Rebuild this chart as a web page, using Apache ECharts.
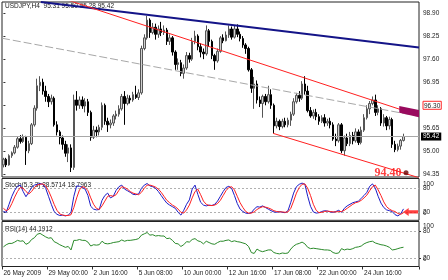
<!DOCTYPE html>
<html><head><meta charset="utf-8">
<script src="https://cdn.jsdelivr.net/npm/echarts@6/dist/echarts.min.js"></script>
<style>html,body{margin:0;padding:0;background:#fff}#c{width:448px;height:280px}</style>
</head><body><div id="c"></div>
<script>
// ---- data ----
const headerText = 'USDJPY,H4  95.31 95.50 95.28 95.42';
const stochText = 'Stoch(5,3,3) 28.5714 18.7963';
const rsiText = 'RSI(14) 44.1912';
const open  = [94.62,94.78,94.62,94.88,94.96,95.12,95.36,95.28,95.40,95.02,95.22,95.75,96.22,96.85,96.95,96.70,96.55,96.40,96.50,95.75,95.55,95.38,95.20,94.95,95.10,94.55,96.45,96.30,96.45,96.28,96.40,96.10,95.40,95.60,95.55,95.68,96.30,95.85,95.75,95.80,96.00,96.05,96.20,96.55,96.35,96.50,96.45,96.60,96.52,96.65,97.90,98.20,98.70,98.35,98.50,98.30,98.45,98.35,98.42,98.10,98.20,97.80,97.45,97.50,97.20,97.35,97.70,97.60,98.10,98.25,97.95,97.80,97.75,98.40,98.10,97.70,97.55,97.82,98.20,98.12,98.28,98.45,98.22,98.45,98.30,98.18,98.00,97.90,97.30,96.78,96.90,96.45,96.35,96.55,96.40,96.60,96.30,95.72,95.85,95.70,95.85,95.75,95.88,96.05,96.40,96.58,96.50,96.90,96.70,96.15,96.00,96.10,95.98,95.85,95.95,95.80,95.85,95.75,95.35,95.30,95.75,95.02,95.38,95.22,95.45,95.30,95.55,95.25,95.60,95.95,96.20,96.35,96.45,96.10,96.20,95.80,95.95,95.72,95.90,95.20,95.05,95.15,95.31];
const close = [94.78,94.62,94.88,94.96,95.12,95.36,95.28,95.40,95.02,95.22,95.75,96.22,96.85,96.95,96.70,96.55,96.40,96.50,95.75,95.55,95.38,95.20,94.95,95.10,94.55,96.45,96.30,96.45,96.28,96.40,96.10,95.40,95.60,95.55,95.68,96.30,95.85,95.75,95.80,96.00,96.05,96.20,96.55,96.35,96.50,96.45,96.60,96.52,96.65,97.90,98.20,98.70,98.35,98.50,98.30,98.45,98.35,98.42,98.10,98.20,97.80,97.45,97.50,97.20,97.35,97.70,97.60,98.10,98.25,97.95,97.80,97.75,98.40,98.10,97.70,97.55,97.82,98.20,98.12,98.28,98.45,98.22,98.45,98.30,98.18,98.00,97.90,97.30,96.78,96.90,96.45,96.35,96.55,96.40,96.60,96.30,95.72,95.85,95.70,95.85,95.75,95.88,96.05,96.40,96.58,96.50,96.90,96.70,96.15,96.00,96.10,95.98,95.85,95.95,95.80,95.85,95.75,95.35,95.30,95.75,95.02,95.38,95.22,95.45,95.30,95.55,95.25,95.60,95.95,96.20,96.35,96.45,96.10,96.20,95.80,95.95,95.72,95.90,95.20,95.05,95.15,95.31,95.42];
const low   = [94.55,94.56,94.60,94.82,94.92,95.08,95.22,95.24,94.62,94.95,95.18,95.70,96.15,96.70,96.60,96.40,96.25,96.32,95.70,95.45,95.20,95.05,94.85,94.70,94.42,94.48,96.15,96.20,96.20,96.10,96.00,95.30,95.35,95.40,95.45,95.60,95.75,95.55,95.65,95.72,95.90,95.98,96.15,95.75,96.30,96.35,96.40,96.48,96.45,96.60,97.85,98.15,98.20,98.30,98.15,98.20,98.25,98.28,98.00,98.00,97.70,97.30,97.30,97.12,97.05,97.30,97.50,97.55,98.02,97.85,97.65,97.60,97.70,97.95,97.60,97.30,97.50,97.78,98.05,98.10,98.20,98.15,98.18,98.22,98.10,97.92,97.75,97.25,96.65,96.20,96.35,96.25,95.95,96.30,96.35,96.20,95.52,95.65,95.60,95.65,95.68,95.68,95.72,96.00,96.35,96.40,96.45,96.60,96.10,95.95,95.92,95.88,95.75,95.80,95.70,95.72,95.65,95.30,95.15,95.25,94.95,94.88,95.15,95.15,95.20,95.25,95.18,95.20,95.55,95.90,96.05,96.30,96.00,96.02,95.72,95.70,95.60,95.62,95.10,94.98,95.00,95.05,95.28];
const high  = [94.82,94.82,94.92,95.00,95.18,95.42,95.46,95.48,95.44,95.30,95.80,96.30,97.05,97.12,97.05,96.85,96.62,96.60,96.55,95.85,95.60,95.45,95.30,95.20,95.20,96.60,96.70,96.55,96.55,96.50,96.48,96.15,95.72,95.70,95.75,96.38,96.35,95.95,95.90,96.05,96.15,96.30,96.62,96.70,96.60,96.58,96.68,96.85,96.75,97.98,98.30,98.82,98.75,98.62,98.60,98.55,98.65,98.55,98.48,98.30,98.25,97.85,97.62,97.58,97.45,97.80,97.78,98.20,98.40,98.30,98.05,97.90,98.55,98.45,98.15,97.75,97.90,98.25,98.30,98.38,98.55,98.52,98.55,98.58,98.38,98.25,98.05,97.95,97.35,97.10,97.00,96.55,96.60,96.62,96.85,96.75,96.35,95.95,95.90,95.92,95.95,95.95,96.12,96.50,96.65,96.70,96.98,97.12,96.85,96.25,96.18,96.20,96.05,96.02,96.05,95.92,95.95,95.82,95.50,95.80,95.80,95.45,95.50,95.55,95.55,95.65,95.62,95.70,96.05,96.30,96.42,96.55,96.60,96.30,96.25,96.05,96.00,95.98,95.95,95.30,95.22,95.35,95.50];
const stochMain = [22,20,40,60,75,85,88,72,59,70,82,88,90,92,90,80,60,40,22,15,12,13,11,13,20,60,86,85,82,78,62,35,28,26,27,50,62,68,56,60,75,84,88,78,74,70,65,64,66,80,88,92,86,84,80,72,62,52,43,38,34,30,20,13,25,40,51,78,88,65,45,38,36,38,37,40,48,60,72,82,85,80,62,42,28,22,18,17,19,28,34,33,36,32,28,24,21,20,22,20,19,24,45,68,84,90,93,90,60,35,21,18,19,22,24,23,21,20,22,25,20,30,36,40,44,46,48,55,62,70,85,91,80,60,43,32,26,24,22,14,11,16,28.5714];
const stochSignal = [30,24,28,42,58,72,82,80,72,66,72,82,88,90,91,86,74,58,40,25,16,13,12,12,14,32,56,76,84,82,74,56,40,30,27,36,48,60,62,60,64,75,84,82,78,72,68,66,64,70,80,88,88,86,83,78,70,60,50,44,38,34,28,20,18,26,38,56,72,78,64,48,40,37,37,38,42,50,62,74,82,84,76,60,44,32,22,18,18,21,27,31,34,33,31,28,24,22,21,21,20,21,30,48,68,82,90,91,80,62,40,25,19,20,22,23,22,21,21,22,22,25,30,35,40,44,46,50,56,63,74,84,88,76,62,46,34,28,24,22,17,15,18.7963];
const rsiValues = [45,50,53,53,56,60,58,59,51,54,62,66,74,76,72,68,65,66,57,54,50,47,44,46,38,60,60,62,60,60,56,47,50,49,50,58,53,52,53,55,56,57,61,58,60,60,61,62,64,72,75,78,72,73,70,71,70,70,64,65,60,53,52,46,50,57,56,62,64,59,57,52,58,55,52,51,55,58,58,60,61,57,59,57,56,54,52,46,32,30,40,36,34,36,38,38,32,30,29,31,30,31,40,47,51,53,56,52,44,41,42,41,40,39,38,38,37,32,30,31,41,38,40,39,41,44,45,47,52,55,57,58,54,52,50,49,47,44,38,39,41,43,44.1912];
const priceTicks = [94.35,95.00,95.65,96.30,96.95,97.60,98.25,98.90];
const oscInnerTicks = [20,80];
const oscEdgeTicks = [0,100];
const oscLevels = [80,20];
const timeLabels = ['26 May 2009','29 May 00:00','2 Jun 16:00','5 Jun 08:00','10 Jun 00:00','12 Jun 16:00','17 Jun 08:00','22 Jun 00:00','24 Jun 16:00'];
const labelEvery = 16;
const slotCount = 148;
const lastPrice = 95.42;
const boxedPrice = 96.30;
const blueTrend = [[13.3,99.21],[147.5,97.93]];
const redUpper = [[22.6,99.27],[147.5,96.01]];
const redLower = [[95.7,95.51],[147.5,94.26]];
const grayMid = [[-0.5,98.19],[147.5,95.99]];
const magentaZone = [[140.5,96.28],[147.5,96.17],[147.5,95.96],[140.5,96.09]];
const targetPoint = [[142.9,94.40]];
const targetLabel = '94.40';
const arrowPoint = [[144.5,21]];

// ---- chart ----
const FONT = 'Liberation Sans';
const cats = Array.from({length: slotCount}, (_, i) => String(i));
const candles = open.map((o, i) => [o, close[i], low[i], high[i]]);
const isLabelIdx = i => i % labelEvery === 0 && i / labelEvery < timeLabels.length;
const txt = {fontSize: 6.5, color: '#222', fontFamily: FONT};

function oscAxis(grid, max, values, edge) {
  const label = Object.assign({}, txt, {margin: 4, customValues: values, hideOverlap: false,
      showMinLabel: true, showMaxLabel: true});
  if (edge) {
    label.formatter = v => Number(v) === 100 ? '{t|100}' : '{b|0}';
    label.rich = {t: Object.assign({}, txt, {padding: [7, 0, 0, 0]}), b: Object.assign({}, txt, {padding: [0, 0, 15, 0]})};
  } else {
    label.formatter = v => String(v);
  }
  return {type: 'value', gridIndex: grid, position: 'right', min: 0, max: max,
    splitLine: {show: false}, axisLine: {show: false},
    axisTick: {show: !edge, length: 2, customValues: values, lineStyle: {color: '#333'}},
    axisLabel: label};
}
function catAxis(grid, showLabels) {
  return {type: 'category', gridIndex: grid, data: cats, boundaryGap: true,
    axisLine: {show: false},
    axisTick: {show: showLabels, length: 3, interval: (i) => isLabelIdx(i), lineStyle: {color: '#333'}},
    axisLabel: showLabels ? Object.assign({}, txt, {margin: 3, align: 'left', hideOverlap: false, interval: (i) => isLabelIdx(i),
      formatter: (v) => timeLabels[Number(v) / labelEvery]}) : {show: false},
    splitLine: {show: false}};
}
function valX(grid) {
  return {type: 'value', gridIndex: grid, min: -0.5, max: slotCount - 0.5, show: false};
}
const gridBase = {left: 2, right: 29, show: true, borderColor: '#222', borderWidth: 1, backgroundColor: '#fff', outerBoundsMode: 'none'};
const trendLine = (data, color, width, type, z) => ({type: 'line', xAxisIndex: 1, yAxisIndex: 0, data: data,
  symbol: 'none', silent: true, z: z || 3, lineStyle: {color: color, width: width, type: type || 'solid'}, clip: true});

const option = {
  animation: false,
  backgroundColor: '#fff',
  title: [
    {text: headerText, left: 5, top: 3, padding: 0, z: 5, textStyle: Object.assign({}, txt, {fontWeight: 'normal'})},
    {text: stochText, left: 5, top: 182, padding: 0, z: 5, textStyle: Object.assign({}, txt, {fontWeight: 'normal'})},
    {text: rsiText, left: 5, top: 225.5, padding: 0, z: 5, textStyle: Object.assign({}, txt, {fontWeight: 'normal'})}
  ],
  grid: [
    Object.assign({}, gridBase, {top: 2, height: 175}),
    Object.assign({}, gridBase, {top: 178.5, height: 41.8}),
    Object.assign({}, gridBase, {top: 221.5, height: 45})
  ],
  xAxis: [catAxis(0, false), valX(0), catAxis(1, false), valX(1), catAxis(2, true)],
  yAxis: [
    {type: 'value', gridIndex: 0, position: 'right', min: 94.28, max: 99.21, scale: true,
      splitLine: {show: false}, axisLine: {show: false},
      axisTick: {show: true, length: 2, customValues: priceTicks, lineStyle: {color: '#333'}},
      axisLabel: Object.assign({}, txt, {margin: 4, customValues: priceTicks, hideOverlap: false,
        formatter: v => Math.abs(v - boxedPrice) < 1e-6 ? '{box|' + Number(v).toFixed(2) + '}' : Number(v).toFixed(2),
        rich: {box: Object.assign({}, txt, {borderColor: '#ff2a2a', borderWidth: 1, padding: [1, 1, 0, 1]})}})},
    oscAxis(1, 104.5, oscInnerTicks, false),
    oscAxis(2, 103.3, oscInnerTicks, false),
    oscAxis(1, 104.5, oscEdgeTicks, true),
    oscAxis(2, 103.3, oscEdgeTicks, true)
  ],
  series: [
    {type: 'candlestick', xAxisIndex: 0, yAxisIndex: 0, data: candles, barWidth: 2, z: 2,
      itemStyle: {color: '#d0d0d0', color0: '#000', borderColor: '#555', borderColor0: '#000', borderWidth: 1},
      markLine: {silent: true, symbol: 'none', animation: false,
        data: [{yAxis: lastPrice}],
        lineStyle: {color: '#a8a8a8', width: 1, type: 'solid'},
        label: {show: true, position: 'end', distance: 2, formatter: lastPrice.toFixed(2), backgroundColor: '#000',
          color: '#fff', fontSize: 6.5, fontFamily: FONT, padding: [1, 2, 0, 2]}}},
    trendLine(grayMid, '#a8a8a8', 1, [8, 3], 3),
    trendLine(blueTrend, '#141488', 2, 'solid', 8),
    trendLine(redUpper, '#ff2020', 1, 'solid', 8),
    trendLine(redLower, '#ff2020', 1, 'solid', 8),
    {type: 'custom', xAxisIndex: 1, yAxisIndex: 0, silent: true, z: 9, data: [0], clip: true,
      renderItem: (params, api) => ({type: 'polygon',
        shape: {points: magentaZone.map(p => api.coord(p))},
        style: {fill: '#990a5e'}})},
    {type: 'scatter', xAxisIndex: 1, yAxisIndex: 0, data: targetPoint, symbolSize: 5, z: 9,
      itemStyle: {color: '#6a0000'},
      label: {show: true, position: 'left', distance: 2, formatter: targetLabel, color: '#ff1010',
        fontFamily: 'Liberation Serif', fontWeight: 'bold', fontSize: 12}},
    {type: 'line', xAxisIndex: 2, yAxisIndex: 1, data: stochMain, symbol: 'none', silent: true, z: 7,
      lineStyle: {color: '#1c1cc8', width: 1},
      markLine: {silent: true, symbol: 'none', label: {show: false},
        data: oscLevels.map(v => ({yAxis: v})), lineStyle: {color: '#b0b0b0', width: 1, type: [2, 2]}}},
    {type: 'line', xAxisIndex: 2, yAxisIndex: 1, data: stochSignal, symbol: 'none', silent: true, z: 8,
      lineStyle: {color: '#ff2020', width: 1}},
    {type: 'scatter', xAxisIndex: 3, yAxisIndex: 1, data: arrowPoint, z: 9,
      symbol: 'path://M0,5 L6,0 L6,3 L16,3 L16,7 L6,7 L6,10 Z', symbolSize: [15, 8],
      itemStyle: {color: '#ff1010'}},
    {type: 'line', xAxisIndex: 4, yAxisIndex: 2, data: rsiValues, symbol: 'none', silent: true, z: 7,
      lineStyle: {color: '#2a8a2a', width: 1},
      markLine: {silent: true, symbol: 'none', label: {show: false},
        data: oscLevels.map(v => ({yAxis: v})), lineStyle: {color: '#b0b0b0', width: 1, type: [2, 2]}}}
  ]
};
const chart = echarts.init(document.getElementById('c'), null, {renderer: 'canvas'});
chart.setOption(option);
</script>
</body></html>
